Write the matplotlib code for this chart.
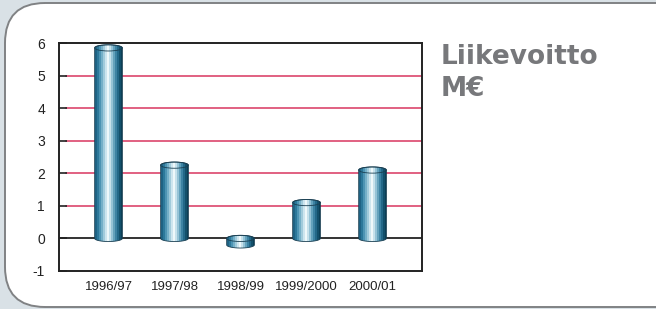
import numpy as np
import matplotlib
matplotlib.use("Agg")
import matplotlib.pyplot as plt
from matplotlib.colors import LinearSegmentedColormap
from matplotlib.patches import FancyBboxPatch, Ellipse, Polygon

years = ["1996/97", "1997/98", "1998/99", "1999/2000", "2000/01"]
profit = [5.85, 2.25, -0.2, 1.1, 2.1]
yticks = [-1, 0, 1, 2, 3, 4, 5, 6]

plt.rcParams["font.family"] = ["Liberation Sans Narrow", "Liberation Sans", "DejaVu Sans"]
plt.rcParams["axes.unicode_minus"] = False

fig = plt.figure(figsize=(6.56, 3.09), dpi=100)
fig.patch.set_facecolor("#d9e1e6")

# rounded white panel, drawn in inches so the corners stay round
panel = FancyBboxPatch((0.45, 0.42), 6.2, 2.24,
                       boxstyle="round,pad=0.4",
                       transform=fig.dpi_scale_trans,
                       facecolor="white", edgecolor="#808284", lw=1.4,
                       zorder=-5)
fig.patches.append(panel)

ax = fig.add_axes([0.0899, 0.123, 0.5534, 0.7378])
ax.set_facecolor("none")
ax.set_xlim(-0.75, 4.75)
ax.set_ylim(-1, 6)
ax.set_yticks(yticks)
ax.set_xticks(range(len(years)))
ax.set_xticklabels(years)
ax.tick_params(axis="y", direction="in", length=6, width=1.2, colors="#222222",
               labelsize=10, pad=10, labelcolor="#222222")
ax.tick_params(axis="x", length=0, labelsize=9.5, pad=7, labelcolor="#222222")
for s in ax.spines.values():
    s.set_color("#222222")
    s.set_linewidth(1.4)

# red grid lines (start a bit right of the spine like the original)
for v in yticks[2:-1]:
    ax.plot([-0.64, 4.75], [v, v], color="#d8365f", lw=1.1, zorder=1)
ax.axhline(0, color="#333333", lw=1.4, zorder=1)

stripes = ["#1f6384", "#2f7c9f", "#5b9fbd", "#8dbfd3", "#c3e0ea", "#f2fafc",
           "#c3e0ea", "#88bbd0", "#4f93b1", "#2a7294", "#15546f", "#0b3f57"]
cmap = LinearSegmentedColormap.from_list("cyl", stripes, N=14)
grad = np.linspace(0, 1, 200).reshape(1, -1)

w = 0.42
eh = 0.19  # cap height in data units
for i, v in enumerate(profit):
    x0, x1 = i - w / 2, i + w / 2
    lo, hi = min(0, v), max(0, v)
    t = np.linspace(np.pi, 2 * np.pi, 40)
    bottom = np.column_stack([i + w / 2 * np.cos(t), lo + eh / 2 * np.sin(t)])
    t2 = np.linspace(0, np.pi, 40)
    top = np.column_stack([i + w / 2 * np.cos(t2), hi + eh / 2 * np.sin(t2)])
    outline = Polygon(np.vstack([bottom, top]), closed=True, facecolor="none",
                      edgecolor="#1a3f52", lw=0.6, zorder=3)
    ax.add_patch(outline)
    im = ax.imshow(grad, cmap=cmap, aspect="auto", zorder=2,
                   extent=[x0, x1, lo - eh, hi + eh], interpolation="nearest")
    im.set_clip_path(outline)
    cap = Ellipse((i, hi), w, eh, facecolor="none", edgecolor="#1a3f52",
                  lw=0.6, zorder=4)
    ax.add_patch(cap)

ax.set_xlim(-0.75, 4.75)
ax.set_ylim(-1, 6)

fig.text(0.672, 0.857, "Liikevoitto\nM€", ha="left", va="top",
         fontsize=19, fontweight="bold", color="#77787b",
         family=["DejaVu Sans"], linespacing=1.3)

fig.savefig("out.png", dpi=100, facecolor=fig.get_facecolor())
